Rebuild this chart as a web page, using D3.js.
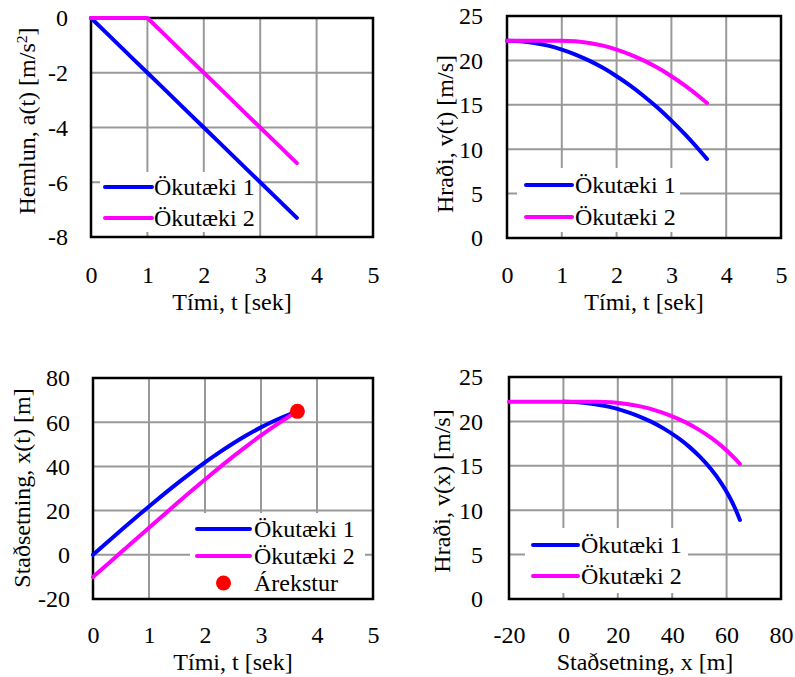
<!DOCTYPE html>
<html><head><meta charset="utf-8">
<script src="https://cdn.jsdelivr.net/npm/d3@7"></script>
<style>
body{margin:0;background:#fff}
</style>
</head><body>
<svg id="c" width="795" height="677"></svg>
<script>
// ---- data ----
const timeSec = [0,0.25,0.5,0.75,1,1.25,1.5,1.75,2,2.25,2.5,2.75,3,3.25,3.5,3.65];
const accel1  = [0,-0.5,-1,-1.5,-2,-2.5,-3,-3.5,-4,-4.5,-5,-5.5,-6,-6.5,-7,-7.3];
const accel2  = [0,0,0,0,0,-0.5,-1,-1.5,-2,-2.5,-3,-3.5,-4,-4.5,-5,-5.3];
const speed1  = [22.22,22.16,21.97,21.66,21.22,20.66,19.97,19.16,18.22,17.16,15.97,14.66,13.22,11.66,9.97,8.9];
const speed2  = [22.22,22.22,22.22,22.22,22.22,22.16,21.97,21.66,21.22,20.66,19.97,19.16,18.22,17.16,15.97,15.2];
const pos1    = [0,5.55,11.07,16.52,21.89,27.12,32.21,37.1,41.77,46.2,50.34,54.17,57.66,60.77,63.48,64.89];
const pos2    = [-10,-4.45,1.11,6.67,12.22,17.77,23.29,28.74,34.11,39.34,44.43,49.32,53.99,58.42,62.56,64.9];
const approachPos2 = [-20];      // vehicle 2 earlier position shown in v(x) panel
const approachSpeed2 = [22.22];
const collision = {t:3.65, x:64.9};

const seriesNames = ["Ökutæki 1","Ökutæki 2"];
const collisionName = "Árekstur";
const timeTicks = [0,1,2,3,4,5];
const accelTicks = [-8,-6,-4,-2,0];
const speedTicks = [0,5,10,15,20,25];
const posTicks = [-20,0,20,40,60,80];

const colors = ["#0000FF","#FF00FF"];
const FS = 24;
const FONT = '"Liberation Serif"';

const svg = d3.select("#c");
function styleText(sel){ return sel.style("font-family",FONT).style("font-size",FS+"px").attr("fill","#000"); }

function panel(cfg){
  const x = d3.scaleLinear().domain(cfg.xDom).range([cfg.l,cfg.r]);
  const y = d3.scaleLinear().domain(cfg.yDom).range([cfg.b,cfg.t]);
  const g = svg.append("g");
  // grid
  g.selectAll(".gx").data(cfg.xTicks).join("line")
    .attr("x1",d=>x(d)).attr("x2",d=>x(d)).attr("y1",cfg.t).attr("y2",cfg.b)
    .attr("stroke","#999").attr("stroke-width",2);
  g.selectAll(".gy").data(cfg.yTicks).join("line")
    .attr("y1",d=>y(d)).attr("y2",d=>y(d)).attr("x1",cfg.l).attr("x2",cfg.r)
    .attr("stroke","#999").attr("stroke-width",2);
  // legend background (under the data lines)
  const L = cfg.leg;
  g.append("rect").attr("x",L.x0).attr("y",L.y0).attr("width",L.x1-L.x0).attr("height",L.y1-L.y0).attr("fill","#fff");
  // border
  g.append("rect").attr("x",cfg.l).attr("y",cfg.t).attr("width",cfg.r-cfg.l).attr("height",cfg.b-cfg.t)
    .attr("fill","none").attr("stroke","#000").attr("stroke-width",2.5);
  // axes labels
  const ax = g.append("g").attr("transform",`translate(0,${cfg.b})`)
    .call(d3.axisBottom(x).tickValues(cfg.xTicks).tickSize(0).tickFormat(d=>String(d)));
  ax.attr("font-family",null).attr("font-size",null);
  ax.select(".domain").remove();
  styleText(ax.selectAll("text").attr("y",cfg.xLabOff).attr("dy",null));
  const ay = g.append("g").attr("transform",`translate(${cfg.l},0)`)
    .call(d3.axisLeft(y).tickValues(cfg.yTicks).tickSize(0).tickFormat(d=>String(d)));
  ay.attr("font-family",null).attr("font-size",null);
  ay.select(".domain").remove();
  styleText(ay.selectAll("text").attr("x",-cfg.yLabGap).attr("dy","0.33em"));
  // titles
  styleText(g.append("text").attr("x",(cfg.l+cfg.r)/2).attr("y",cfg.xTitleY).attr("text-anchor","middle")).text(cfg.xTitle);
  const yt = styleText(g.append("text").attr("transform",`translate(${cfg.yTitleX},${cfg.yTitleCY}) rotate(-90)`)
    .attr("text-anchor","middle"));
  cfg.yTitle.forEach(p=>{
    const ts = yt.append("tspan").text(p.s);
    if(p.sup) ts.attr("baseline-shift","super").style("font-size",(FS*0.65)+"px");
  });
  // data
  cfg.series.forEach((s,i)=>{
    const line = d3.line().x(d=>x(d[0])).y(d=>y(d[1])).curve(s.curve||d3.curveLinear);
    g.append("path").datum(s.pts).attr("d",line).attr("fill","none")
      .attr("stroke",colors[i]).attr("stroke-width",4).attr("stroke-linecap","round").attr("stroke-linejoin","round");
  });
  if(cfg.point){
    g.append("circle").attr("cx",x(cfg.point[0])).attr("cy",y(cfg.point[1])).attr("r",7.5).attr("fill","#FF0000");
  }
  // legend entries
  seriesNames.forEach((n,i)=>{
    const yy = L.rows[i];
    g.append("line").attr("x1",L.lx0).attr("x2",L.lx1).attr("y1",yy).attr("y2",yy)
      .attr("stroke",colors[i]).attr("stroke-width",4).attr("stroke-linecap","round");
    styleText(g.append("text").attr("x",L.tx).attr("y",yy+8)).text(n);
  });
  if(cfg.point){
    const yy = L.rows[2];
    g.append("circle").attr("cx",(L.lx0+L.lx1)/2).attr("cy",yy).attr("r",7.5).attr("fill","#FF0000");
    styleText(g.append("text").attr("x",L.tx).attr("y",yy+8)).text(collisionName);
  }
}

const zip = (a,b)=>a.map((v,i)=>[v,b[i]]);
const smooth = d3.curveMonotoneX;

panel({l:91,r:373,t:18,b:237,xDom:[0,5],yDom:[-8,0],xTicks:timeTicks,yTicks:accelTicks,
  xLabOff:46,yLabGap:23,xTitleY:310,yTitleX:35,yTitleCY:121,xTitle:"Tími, t [sek]",
  yTitle:[{s:"Hemlun, a(t) [m/s"},{s:"2",sup:true},{s:"]"}],
  series:[{pts:zip(timeSec,accel1)},{pts:zip(timeSec,accel2)}],
  leg:{x0:100,x1:258,y0:172,y1:232,lx0:105,lx1:152,tx:154,rows:[187,218]}});

panel({l:507,r:781,t:16,b:238,xDom:[0,5],yDom:[0,25],xTicks:timeTicks,yTicks:speedTicks,
  xLabOff:45,yLabGap:24,xTitleY:310,yTitleX:453,yTitleCY:134,xTitle:"Tími, t [sek]",
  yTitle:[{s:"Hraði, v(t) [m/s]"}],
  series:[{pts:zip(timeSec,speed1),curve:smooth},{pts:zip(timeSec,speed2),curve:smooth}],
  leg:{x0:517,x1:680,y0:168,y1:232,lx0:526,lx1:572,tx:575,rows:[185,217]}});

panel({l:93,r:373,t:378,b:599,xDom:[0,5],yDom:[-20,80],xTicks:timeTicks,yTicks:posTicks,
  xLabOff:44,yLabGap:23,xTitleY:670,yTitleX:30,yTitleCY:488,xTitle:"Tími, t [sek]",
  yTitle:[{s:"Staðsetning, x(t) [m]"}],
  series:[{pts:zip(timeSec,pos1),curve:smooth},{pts:zip(timeSec,pos2),curve:smooth}],
  point:[collision.t,collision.x],
  leg:{x0:190,x1:365,y0:513,y1:598,lx0:197,lx1:250,tx:254,rows:[529,556,583]}});

panel({l:509,r:781,t:377,b:599,xDom:[-20,80],yDom:[0,25],xTicks:posTicks,yTicks:speedTicks,
  xLabOff:44,yLabGap:26,xTitleY:670,yTitleX:450,yTitleCY:491,xTitle:"Staðsetning, x [m]",
  yTitle:[{s:"Hraði, v(x) [m/s]"}],
  series:[{pts:zip(pos1,speed1),curve:smooth},{pts:zip(approachPos2.concat(pos2),approachSpeed2.concat(speed2)),curve:smooth}],
  leg:{x0:525,x1:688,y0:528,y1:593,lx0:533,lx1:578,tx:581,rows:[545,576]}});
</script>
</body></html>
